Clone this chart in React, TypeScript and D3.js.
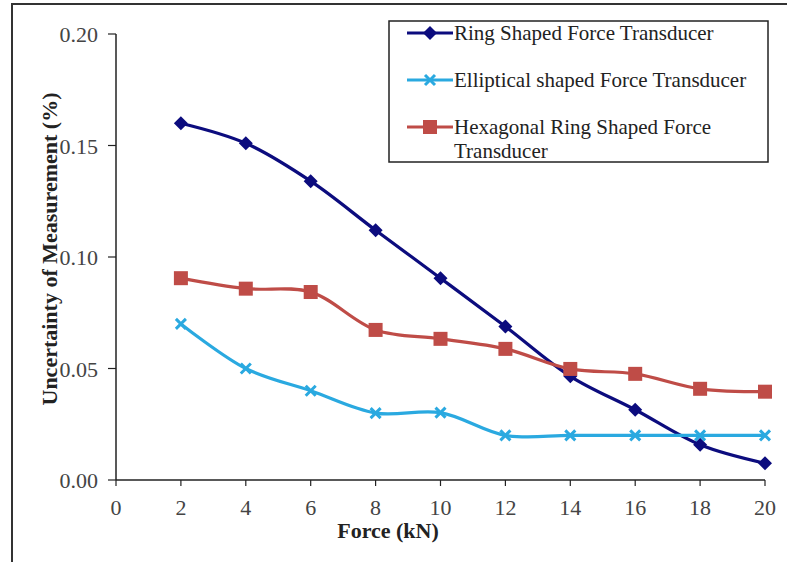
import React, { useEffect, useRef } from "react";
import * as d3 from "d3";

const forces = [2, 4, 6, 8, 10, 12, 14, 16, 18, 20];
const ringValues = [0.16, 0.151, 0.134, 0.112, 0.0905, 0.0688, 0.0465, 0.0315, 0.0158, 0.0075];
const ellipticalValues = [0.07, 0.05, 0.04, 0.03, 0.0302, 0.02, 0.02, 0.02, 0.02, 0.02];
const hexagonalValues = [0.0905, 0.0858, 0.0843, 0.0673, 0.0633, 0.0588, 0.0498, 0.0476, 0.0409, 0.0396];
const xTicks = [0, 2, 4, 6, 8, 10, 12, 14, 16, 18, 20];
const yTicks = [0, 0.05, 0.1, 0.15, 0.2];

const series = [
  { name: ["Ring Shaped Force Transducer"], values: ringValues, color: "#0c0c7e", marker: "diamond" },
  { name: ["Elliptical shaped Force Transducer"], values: ellipticalValues, color: "#2aa9e0", marker: "x" },
  { name: ["Hexagonal Ring Shaped Force", "Transducer"], values: hexagonalValues, color: "#bf4c47", marker: "square" },
];

const App = () => {
  const ref = useRef<SVGSVGElement>(null);

  useEffect(() => {
    const svg = d3.select(ref.current);
    svg.selectAll("*").remove();

    const font = "'Liberation Serif', 'Times New Roman', serif";
    const x = d3.scaleLinear().domain([0, 20]).range([116, 765]);
    const y = d3.scaleLinear().domain([0, 0.2]).range([480, 34]);

    // frame
    svg.append("rect").attr("width", 787).attr("height", 562).attr("fill", "#fff");
    svg.append("path").attr("d", "M12,562 V4 H787").attr("fill", "none").attr("stroke", "#333").attr("stroke-width", 2);

    // axes
    const ax = svg.append("g");
    ax.append("line").attr("x1", x(0)).attr("x2", x(20)).attr("y1", y(0)).attr("y2", y(0)).attr("stroke", "#222").attr("stroke-width", 1.5);
    ax.append("line").attr("x1", x(0)).attr("x2", x(0)).attr("y1", y(0)).attr("y2", y(0.2)).attr("stroke", "#222").attr("stroke-width", 1.5);

    xTicks.forEach((t) => {
      ax.append("line").attr("x1", x(t)).attr("x2", x(t)).attr("y1", y(0)).attr("y2", y(0) + 6).attr("stroke", "#222").attr("stroke-width", 1.2);
      ax.append("text").attr("x", x(t)).attr("y", 515).attr("text-anchor", "middle")
        .attr("font-family", font).attr("font-size", 22).attr("fill", "#444").text(t);
    });
    yTicks.forEach((t) => {
      ax.append("line").attr("x1", x(0) - 8).attr("x2", x(0)).attr("y1", y(t)).attr("y2", y(t)).attr("stroke", "#222").attr("stroke-width", 1.2);
      ax.append("text").attr("x", 98).attr("y", y(t) + 8).attr("text-anchor", "end")
        .attr("font-family", font).attr("font-size", 22).attr("fill", "#444").text(t.toFixed(2));
    });

    svg.append("text").attr("x", 388).attr("y", 538).attr("text-anchor", "middle")
      .attr("font-family", font).attr("font-size", 22).attr("font-weight", "bold").attr("fill", "#222").text("Force (kN)");
    svg.append("text").attr("transform", "translate(57,249) rotate(-90)").attr("text-anchor", "middle")
      .attr("font-family", font).attr("font-size", 22).attr("font-weight", "bold").attr("fill", "#222")
      .text("Uncertainty of Measurement (%)");

    const drawMarker = (g: any, kind: string, cx: number, cy: number, color: string) => {
      if (kind === "diamond") {
        g.append("path").attr("d", `M${cx},${cy - 7} L${cx + 7},${cy} L${cx},${cy + 7} L${cx - 7},${cy} Z`).attr("fill", color);
      } else if (kind === "square") {
        g.append("rect").attr("x", cx - 7).attr("y", cy - 7).attr("width", 14).attr("height", 14).attr("fill", color);
      } else {
        g.append("path").attr("d", `M${cx - 5},${cy - 5} L${cx + 5},${cy + 5} M${cx - 5},${cy + 5} L${cx + 5},${cy - 5}`)
          .attr("stroke", color).attr("stroke-width", 3);
      }
    };

    const line = d3.line<number>().x((_, i) => x(forces[i])).y((d) => y(d)).curve(d3.curveCatmullRom.alpha(0.5));

    series.forEach((s) => {
      const g = svg.append("g");
      g.append("path").attr("d", line(s.values)).attr("fill", "none").attr("stroke", s.color).attr("stroke-width", 3.2);
      s.values.forEach((v, i) => drawMarker(g, s.marker, x(forces[i]), y(v), s.color));
    });

    // legend
    const lg = svg.append("g");
    lg.append("rect").attr("x", 389).attr("y", 21).attr("width", 379).attr("height", 141)
      .attr("fill", "#fff").attr("stroke", "#222").attr("stroke-width", 1.5);
    const rows = [33, 80, 127];
    series.forEach((s, i) => {
      const ry = rows[i];
      lg.append("line").attr("x1", 407).attr("x2", 453).attr("y1", ry).attr("y2", ry).attr("stroke", s.color).attr("stroke-width", 3.2);
      drawMarker(lg, s.marker, 430, ry, s.color);
      s.name.forEach((n, j) => {
        lg.append("text").attr("x", 454).attr("y", ry + 7 + j * 24).attr("font-family", font).attr("font-size", 21)
          .attr("fill", "#222").text(n);
      });
    });
  }, []);

  return <svg ref={ref} width={787} height={562} style={{ display: "block", position: "absolute", left: 0, top: 0 }} />;
};

export default App;
